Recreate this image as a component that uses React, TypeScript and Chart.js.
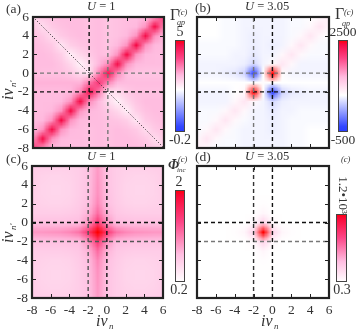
import React, { useEffect, useRef } from "react";
import { Chart, registerables } from "chart.js";

Chart.register(...registerables);

// Rows run from nu' = 6 down to -8, columns from nu = -8 up to 6.
const gridNodes = [-8, -7, -6, -5, -4, -3, -2, -1, 0, 1, 2, 3, 4, 5, 6];
const axisTicks = [-8, -6, -4, -2, 0, 2, 4, 6];
const dashLevels = [-2, 0];
const antiDiagonal = [{ x: -8, y: 6 }, { x: 6, y: -8 }];

const gammaU1 = [
  [54, 58, 60, 61, 61, 61, 60, 61, 59, 60, 61, 61, 62, 68, 84],
  [58, 54, 58, 60, 61, 61, 60, 61, 59, 60, 61, 62, 68, 94, 68],
  [60, 58, 54, 58, 60, 61, 60, 61, 59, 60, 62, 68, 95, 68, 62],
  [61, 60, 58, 52, 57, 59, 60, 61, 59, 62, 68, 95, 68, 62, 61],
  [61, 61, 60, 57, 50, 55, 58, 61, 60, 68, 95, 68, 62, 61, 61],
  [61, 61, 61, 59, 55, 49, 54, 62, 69, 94, 68, 62, 61, 61, 61],
  [61, 60, 60, 60, 58, 54, 51, 70, 93, 69, 60, 59, 59, 59, 59],
  [63, 63, 63, 63, 63, 63, 72, 84, 70, 62, 61, 61, 61, 61, 61],
  [61, 61, 61, 61, 62, 69, 93, 72, 51, 54, 58, 60, 60, 60, 60],
  [61, 61, 61, 62, 68, 95, 69, 62, 54, 49, 55, 59, 61, 61, 61],
  [61, 61, 62, 68, 95, 68, 62, 61, 58, 55, 50, 57, 60, 61, 61],
  [61, 62, 68, 95, 68, 62, 61, 61, 60, 59, 57, 52, 58, 60, 61],
  [62, 68, 95, 68, 62, 61, 60, 61, 60, 61, 60, 58, 54, 58, 60],
  [68, 94, 68, 62, 61, 61, 60, 61, 60, 61, 61, 60, 58, 54, 58],
  [84, 68, 62, 61, 61, 61, 60, 61, 60, 61, 61, 61, 60, 58, 54],
];

const gammaU305 = [
  [40, 40, 40, 39, 39, 38, 38, 38, 38, 38, 39, 39, 40, 42, 45],
  [40, 40, 40, 39, 39, 38, 38, 38, 38, 38, 39, 39, 42, 47, 42],
  [40, 40, 40, 39, 39, 38, 37, 38, 38, 38, 39, 42, 47, 42, 40],
  [39, 39, 39, 39, 39, 38, 37, 38, 37, 38, 42, 47, 42, 39, 39],
  [39, 39, 39, 39, 38, 38, 36, 38, 38, 42, 47, 42, 39, 39, 39],
  [38, 38, 38, 38, 38, 37, 33, 38, 41, 47, 42, 38, 38, 38, 38],
  [38, 38, 38, 37, 36, 32, 3, 40, 100, 41, 38, 38, 38, 38, 38],
  [40, 40, 40, 40, 40, 40, 40, 41, 40, 40, 40, 40, 40, 40, 40],
  [38, 38, 38, 38, 40, 42, 100, 40, 3, 32, 36, 37, 38, 38, 38],
  [38, 38, 38, 38, 42, 47, 42, 38, 33, 37, 38, 38, 38, 38, 38],
  [39, 39, 39, 42, 47, 42, 38, 38, 36, 38, 38, 39, 39, 39, 39],
  [39, 39, 42, 47, 42, 39, 38, 38, 37, 38, 39, 39, 39, 39, 39],
  [39, 42, 47, 42, 39, 38, 38, 38, 37, 38, 39, 39, 40, 40, 40],
  [42, 47, 42, 39, 39, 38, 38, 38, 38, 38, 39, 39, 40, 40, 40],
  [45, 42, 39, 39, 39, 38, 38, 38, 38, 38, 39, 39, 40, 40, 40],
];

const phiU1 = [
  [23, 23, 23, 22, 22, 23, 27, 40, 27, 23, 22, 22, 22, 23, 23],
  [23, 21, 20, 20, 21, 23, 27, 41, 27, 23, 21, 20, 20, 21, 23],
  [23, 20, 19, 19, 20, 23, 27, 42, 27, 23, 20, 19, 19, 20, 23],
  [22, 20, 19, 19, 20, 23, 28, 43, 28, 23, 20, 19, 19, 20, 22],
  [22, 21, 20, 20, 21, 24, 29, 46, 29, 24, 21, 20, 20, 21, 22],
  [23, 23, 23, 23, 24, 26, 33, 54, 33, 26, 24, 23, 23, 23, 23],
  [28, 28, 28, 28, 29, 30, 42, 72, 42, 30, 29, 28, 28, 28, 28],
  [41, 41, 42, 43, 46, 52, 72, 100, 72, 52, 46, 43, 42, 41, 41],
  [28, 28, 28, 28, 29, 30, 42, 72, 42, 30, 29, 28, 28, 28, 28],
  [23, 23, 23, 23, 24, 26, 33, 54, 33, 26, 24, 23, 23, 23, 23],
  [22, 21, 20, 20, 21, 24, 29, 46, 29, 24, 21, 20, 20, 21, 22],
  [22, 20, 19, 19, 20, 23, 28, 43, 28, 23, 20, 19, 19, 20, 22],
  [23, 20, 19, 19, 20, 23, 27, 42, 27, 23, 20, 19, 19, 20, 23],
  [23, 21, 20, 20, 21, 23, 27, 41, 27, 23, 21, 20, 20, 21, 23],
  [23, 23, 23, 22, 22, 23, 27, 40, 27, 23, 22, 22, 22, 23, 23],
];

const phiU305 = [
  [0, 0, 0, 0, 0, 0, 0, 0, 0, 0, 0, 0, 0, 0, 0],
  [0, 0, 0, 0, 0, 0, 0, 0, 0, 0, 0, 0, 0, 0, 0],
  [0, 0, 0, 0, 0, 0, 0, 0, 0, 0, 0, 0, 0, 0, 0],
  [0, 0, 0, 0, 0, 0, 0, 0, 0, 0, 0, 0, 0, 0, 0],
  [0, 0, 0, 0, 0, 0, 0, 1, 0, 0, 0, 0, 0, 0, 0],
  [0, 0, 0, 0, 0, 0, 0, 4, 0, 0, 0, 0, 0, 0, 0],
  [0, 0, 0, 0, 0, 0, 3, 20, 3, 0, 0, 0, 0, 0, 0],
  [0, 0, 0, 0, 1, 4, 20, 100, 20, 4, 1, 0, 0, 0, 0],
  [0, 0, 0, 0, 0, 0, 3, 20, 3, 0, 0, 0, 0, 0, 0],
  [0, 0, 0, 0, 0, 0, 0, 4, 0, 0, 0, 0, 0, 0, 0],
  [0, 0, 0, 0, 0, 0, 0, 1, 0, 0, 0, 0, 0, 0, 0],
  [0, 0, 0, 0, 0, 0, 0, 0, 0, 0, 0, 0, 0, 0, 0],
  [0, 0, 0, 0, 0, 0, 0, 0, 0, 0, 0, 0, 0, 0, 0],
  [0, 0, 0, 0, 0, 0, 0, 0, 0, 0, 0, 0, 0, 0, 0],
  [0, 0, 0, 0, 0, 0, 0, 0, 0, 0, 0, 0, 0, 0, 0],
];

type Stop = [number, number, number, number];
const BLUE: [number, number, number] = [40, 60, 255];
const stopsA: Stop[] = [[0, ...BLUE], [0.06, 50, 70, 255], [0.46, 255, 255, 255], [0.62, 255, 185, 222], [0.8, 252, 70, 135], [0.95, 245, 10, 70], [1, 255, 0, 0]];
const stopsB: Stop[] = [[0, ...BLUE], [0.06, 50, 70, 255], [0.4, 255, 255, 255], [0.6, 255, 185, 222], [0.8, 252, 70, 135], [0.95, 245, 10, 70], [1, 255, 0, 0]];
const stopsC: Stop[] = [[0, 255, 255, 255], [0.3, 255, 190, 225], [0.65, 252, 70, 135], [0.95, 250, 5, 50], [1, 255, 0, 0]];

const SERIF = '"Liberation Serif", serif';
const tickFont = { family: "Liberation Serif", size: 13.5 };

function colorAt(stops: Stop[], pct: number): number[] {
  const f = Math.max(0, Math.min(1, pct / 100));
  for (let i = 1; i < stops.length; i++) {
    if (f <= stops[i][0]) {
      const a = stops[i - 1];
      const b = stops[i];
      const t = (f - a[0]) / (b[0] - a[0]);
      return [1, 2, 3].map((k) => a[k] + (b[k] - a[k]) * t);
    }
  }
  return stops[stops.length - 1].slice(1);
}

type Txt = { s: string; x: number; y: number; font: string; align?: CanvasTextAlign; rot?: number };

const nuLabel = (x: number, y: number, sub: string, rot = 0): Txt[] =>
  rot === 0
    ? [
        { s: "i\u03BD", x, y, font: `italic 16px ${SERIF}`, align: "left" },
        { s: sub, x: x + 13, y: y + 5, font: `italic 9px ${SERIF}`, align: "left" },
      ]
    : [
        { s: "i\u03BD", x, y, font: `italic 16px ${SERIF}`, align: "left", rot },
        { s: sub, x: x + 5, y: y - 13, font: `italic 9px ${SERIF}`, align: "left", rot },
      ];

const uTitle = (x: number, y: number, rest: string): Txt[] => [
  { s: "U", x, y, font: `italic 12.5px ${SERIF}`, align: "left" },
  { s: rest, x: x + 9, y, font: `12.5px ${SERIF}`, align: "left" },
];

const panels = [
  {
    matrix: gammaU1, stops: stopsA, box: { l: 33, r: 164, t: 17, b: 148 }, showX: false, showY: true, diagonal: true,
    bar: { l: 175, r: 185, t: 40, b: 132 },
    dashX: ["#111", "#777"], dashY: ["#111", "#777"],
    texts: [
      { s: "(a)", x: 6, y: 9, font: `13.5px ${SERIF}`, align: "left" },
      ...uTitle(87, 7, " = 1"),
      ...nuLabel(9, 100, "n'", -Math.PI / 2),
      { s: "\u0393", x: 170, y: 16, font: `16px ${SERIF}`, align: "left" },
      { s: "(c)", x: 178, y: 13, font: `italic 8.5px ${SERIF}`, align: "left" },
      { s: "qp", x: 177, y: 23, font: `italic 8px ${SERIF}`, align: "left" },
      { s: "5", x: 180, y: 32, font: `14px ${SERIF}` },
      { s: "-0.2", x: 180, y: 140, font: `14px ${SERIF}` },
    ] as Txt[],
  },
  {
    matrix: gammaU305, stops: stopsB, box: { l: 197, r: 329, t: 17, b: 148 }, showX: false, showY: false, diagonal: false,
    bar: { l: 338, r: 348, t: 40, b: 132 },
    dashX: ["#777", "#111"], dashY: ["#111", "#777"],
    texts: [
      { s: "(b)", x: 195, y: 8, font: `13.5px ${SERIF}`, align: "left" },
      ...uTitle(245, 7, " = 3.05"),
      { s: "\u0393", x: 335, y: 15, font: `16px ${SERIF}`, align: "left" },
      { s: "(c)", x: 344, y: 13, font: `italic 8.5px ${SERIF}`, align: "left" },
      { s: "qp", x: 342, y: 24, font: `italic 8px ${SERIF}`, align: "left" },
      { s: "2500", x: 343, y: 32, font: `13.5px ${SERIF}` },
      { s: "-500", x: 343, y: 140, font: `13.5px ${SERIF}` },
    ] as Txt[],
  },
  {
    matrix: phiU1, stops: stopsC, box: { l: 32, r: 163, t: 166, b: 298 }, showX: true, showY: true, diagonal: false,
    bar: { l: 175, r: 185, t: 190, b: 282 },
    dashX: ["#555", "#111"], dashY: ["#555", "#111"],
    texts: [
      { s: "(c)", x: 6, y: 159, font: `13.5px ${SERIF}`, align: "left" },
      ...uTitle(87, 157, " = 1"),
      ...nuLabel(9, 243, "n'", -Math.PI / 2),
      ...nuLabel(96, 322, "n"),
      { s: "\u03A6", x: 168, y: 165, font: `italic bold 14px ${SERIF}`, align: "left" },
      { s: "(c)", x: 178, y: 160, font: `italic 8.5px ${SERIF}`, align: "left" },
      { s: "inc", x: 177, y: 170, font: `italic 7px ${SERIF}`, align: "left" },
      { s: "2", x: 179, y: 182, font: `14px ${SERIF}` },
      { s: "0.2", x: 179, y: 290, font: `14px ${SERIF}` },
    ] as Txt[],
  },
  {
    matrix: phiU305, stops: stopsC, box: { l: 197, r: 329, t: 166, b: 298 }, showX: true, showY: false, diagonal: false,
    bar: { l: 336, r: 347, t: 214, b: 282 },
    dashX: ["#333", "#111"], dashY: ["#777", "#111"],
    texts: [
      { s: "(d)", x: 195, y: 157, font: `13.5px ${SERIF}`, align: "left" },
      ...uTitle(245, 157, " = 3.05"),
      ...nuLabel(261, 322, "n"),
      { s: "(c)", x: 341, y: 160, font: `italic 8.5px ${SERIF}`, align: "left" },
      { s: "1.2\u202210\u00B3", x: 342, y: 195, font: `13px ${SERIF}`, rot: Math.PI / 2 },
      { s: "0.3", x: 342, y: 290, font: `14px ${SERIF}` },
    ] as Txt[],
  },
];

function makePlugin(p: (typeof panels)[number]) {
  return {
    id: "heat",
    beforeDatasetsDraw(chart: any) {
      const { ctx } = chart;
      const x = chart.scales.x;
      const y = chart.scales.y;
      const n = gridNodes.length;
      const off = document.createElement("canvas");
      off.width = n;
      off.height = n;
      const oc = off.getContext("2d")!;
      const img = oc.createImageData(n, n);
      p.matrix.forEach((row, j) =>
        row.forEach((v, i) => {
          const c = colorAt(p.stops, v);
          const k = (j * n + i) * 4;
          img.data[k] = c[0];
          img.data[k + 1] = c[1];
          img.data[k + 2] = c[2];
          img.data[k + 3] = 255;
        })
      );
      oc.putImageData(img, 0, 0);
      const x0 = x.getPixelForValue(gridNodes[0]);
      const x1 = x.getPixelForValue(gridNodes[n - 1]);
      const y0 = y.getPixelForValue(gridNodes[n - 1]);
      const y1 = y.getPixelForValue(gridNodes[0]);
      ctx.save();
      ctx.imageSmoothingEnabled = true;
      ctx.imageSmoothingQuality = "low";
      ctx.drawImage(off, 0.5, 0.5, n - 1, n - 1, x0, y0, x1 - x0, y1 - y0);
      ctx.restore();
    },
    afterDatasetsDraw(chart: any) {
      const { ctx, chartArea: a } = chart;
      const x = chart.scales.x;
      const y = chart.scales.y;
      ctx.save();
      ctx.strokeStyle = "#222";
      ctx.lineWidth = 1;
      ctx.beginPath();
      axisTicks.forEach((t) => {
        const px = Math.round(x.getPixelForValue(t)) + 0.5;
        const py = Math.round(y.getPixelForValue(t)) + 0.5;
        ctx.moveTo(px, a.bottom);
        ctx.lineTo(px, a.bottom - 4);
        ctx.moveTo(px, a.top);
        ctx.lineTo(px, a.top + 4);
        ctx.moveTo(a.left, py);
        ctx.lineTo(a.left + 4, py);
        ctx.moveTo(a.right, py);
        ctx.lineTo(a.right - 4, py);
      });
      ctx.stroke();
      ctx.lineWidth = 2.2;
      ctx.strokeRect(a.left, a.top, a.right - a.left, a.bottom - a.top);

      const g = ctx.createLinearGradient(0, p.bar.b, 0, p.bar.t);
      p.stops.forEach((s) => g.addColorStop(s[0], `rgb(${s[1]},${s[2]},${s[3]})`));
      ctx.fillStyle = g;
      ctx.fillRect(p.bar.l, p.bar.t, p.bar.r - p.bar.l, p.bar.b - p.bar.t);
      ctx.strokeStyle = "#444";
      ctx.lineWidth = 1;
      ctx.strokeRect(p.bar.l + 0.5, p.bar.t + 0.5, p.bar.r - p.bar.l - 1, p.bar.b - p.bar.t - 1);

      ctx.fillStyle = "#333";
      ctx.textBaseline = "middle";
      p.texts.forEach((t) => {
        ctx.save();
        ctx.font = t.font;
        ctx.textAlign = t.align ?? "center";
        ctx.translate(t.x, t.y);
        if (t.rot) ctx.rotate(t.rot);
        ctx.fillText(t.s, 0, 0);
        ctx.restore();
      });
      ctx.restore();
    },
  };
}

function dashSet(points: { x: number; y: number }[], color: string, dash: number[], width: number) {
  return {
    type: "scatter" as const,
    data: points,
    showLine: true,
    pointRadius: 0,
    borderColor: color,
    borderWidth: width,
    borderDash: dash,
    fill: false,
  };
}

function Panel({ p }: { p: (typeof panels)[number] }) {
  const ref = useRef<HTMLCanvasElement>(null);
  useEffect(() => {
    const first = gridNodes[0];
    const last = gridNodes[gridNodes.length - 1];
    const datasets: any[] = [];
    if (p.diagonal) datasets.push(dashSet(antiDiagonal, "#222", [1, 2], 1));
    dashLevels.forEach((lv, i) => {
      datasets.push(dashSet([{ x: lv, y: first }, { x: lv, y: last }], p.dashX[i], [4, 3], 1.4));
      datasets.push(dashSet([{ x: first, y: lv }, { x: last, y: lv }], p.dashY[i], [4, 3], 1.4));
    });
    const W = 357;
    const H = 334;
    const yW = p.showY ? 28 : 0;
    const xH = p.showX ? 20 : 0;
    const clearPad = (s: any) => {
      s.paddingLeft = 0;
      s.paddingRight = 0;
      s.paddingTop = 0;
      s.paddingBottom = 0;
    };
    const chart = new Chart(ref.current!, {
      type: "scatter",
      data: { datasets },
      plugins: [makePlugin(p)],
      options: {
        animation: false,
        responsive: false,
        layout: {
          padding: {
            left: p.box.l - yW,
            right: W - p.box.r,
            top: p.box.t,
            bottom: H - p.box.b - xH,
          },
        },
        plugins: { legend: { display: false }, tooltip: { enabled: false } },
        scales: {
          x: {
            type: "linear",
            min: first,
            max: last,
            grid: { display: false, drawTicks: false },
            border: { display: false },
            ticks: { display: p.showX, stepSize: 2, maxRotation: 0, autoSkip: false, padding: 4, color: "#333", font: tickFont },
            afterFit: (s: any) => {
              s.height = xH;
              clearPad(s);
            },
          },
          y: {
            type: "linear",
            min: first,
            max: last,
            grid: { display: false, drawTicks: false },
            border: { display: false },
            ticks: { display: p.showY, stepSize: 2, autoSkip: false, padding: 4, color: "#333", font: tickFont },
            afterFit: (s: any) => {
              s.width = yW;
              clearPad(s);
            },
          },
        },
      },
    } as any);
    return () => chart.destroy();
  }, [p]);
  return <canvas ref={ref} width={357} height={334} style={{ position: "absolute", left: 0, top: 0 }} />;
}

export default function App() {
  return (
    <div style={{ position: "fixed", left: 0, top: 0, width: 357, height: 334, background: "#fff" }}>
      {panels.map((p, i) => (
        <Panel key={i} p={p} />
      ))}
    </div>
  );
}
